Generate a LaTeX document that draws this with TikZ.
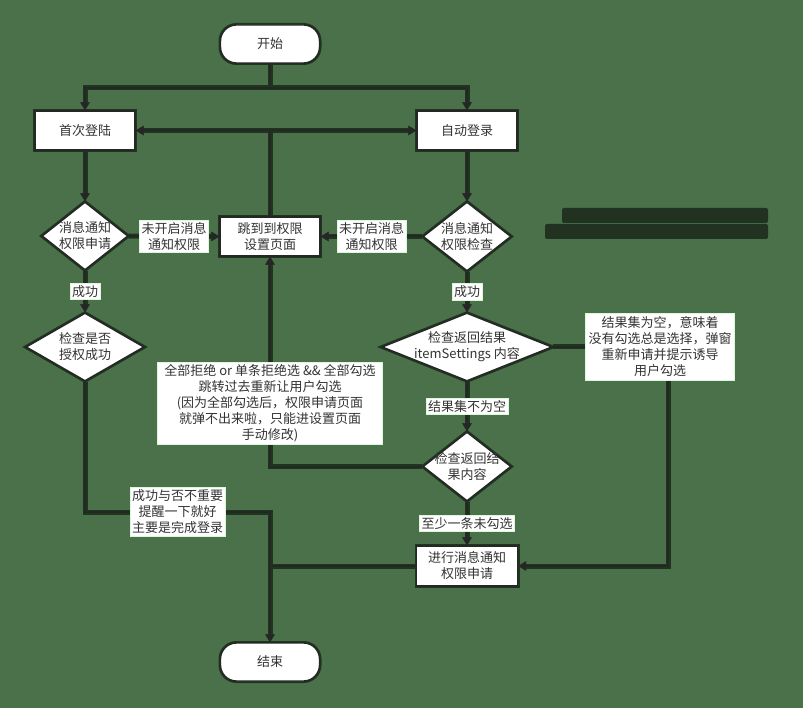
\documentclass[tikz,border=0pt]{standalone}
\usepackage{fontspec}
\setmainfont{Noto Sans CJK SC}
\usetikzlibrary{shapes.geometric,arrows.meta}
\definecolor{bg}{HTML}{4A714A}
\definecolor{glow}{HTML}{1E361E}
\definecolor{ink}{HTML}{262626}
\definecolor{txt}{HTML}{333333}
\definecolor{lblrim}{HTML}{DDF7DD}
\definecolor{redact}{HTML}{213221}
\tikzset{
  base/.style={font=\fontsize{13}{16}\selectfont, text=txt, align=center},
  shapebox/.style={base, fill=white, draw=ink, line width=1.4pt, preaction={draw=glow, line width=4pt}},
  term/.style={shapebox, rectangle, rounded corners=16pt, minimum width=99pt, minimum height=38pt, inner sep=0pt},
  proc/.style={shapebox, rectangle, minimum width=100pt, minimum height=39pt, inner sep=0pt},
  dec/.style={shapebox, diamond, inner xsep=-30pt, inner ysep=-16pt},
  lbl/.style={base, fill=white, draw=lblrim, line width=1pt, inner sep=2pt},
  conn/.style={draw=ink, line width=2pt, preaction={draw=glow, line width=5pt}, -{Triangle[length=8pt,width=9pt]}},
  link/.style={draw=ink, line width=2pt, preaction={draw=glow, line width=5pt}}
}
\begin{document}
\begin{tikzpicture}[x=1pt,y=-1pt]
\fill[bg] (0,0) rectangle (803,708);
\useasboundingbox (0,0) rectangle (803,708);
% redacted text block
\fill[redact, rounded corners=2pt] (562,208) rectangle (768,223);
\fill[redact, rounded corners=2pt] (545,224) rectangle (768,239);

% nodes
\node[term] (start) at (270,44) {开始};
\node[proc] (first) at (85,130.5) {首次登陆};
\node[proc] (auto) at (467,130.5) {自动登录};
\node[dec, minimum width=86pt, minimum height=68pt] (d1) at (85,236) {消息通知\\权限申请};
\node[proc] (jump) at (270,236.5) {跳到到权限\\设置页面};
\node[dec, minimum width=88pt, minimum height=69pt] (d3) at (467,236.5) {消息通知\\权限检查};
\node[dec, minimum width=118pt, minimum height=68pt] (d2) at (85,347) {检查是否\\授权成功};
\node[dec, minimum width=170pt, minimum height=68pt] (d4) at (467,347) {检查返回结果\\itemSettings 内容};
\node[dec, minimum width=88pt, minimum height=69pt] (d5) at (467,466.5) {检查返回结\\果内容};
\node[proc, minimum width=101pt, minimum height=40pt] (req) at (467,566) {进行消息通知\\权限申请};
\node[term] (end) at (270,662) {结束};

\coordinate (jt) at (270,88);
\coordinate (jm) at (270,512);
\coordinate (jr) at (668,347);
\coordinate (jb) at (270,566);

% connectors
\draw[conn] (start.south) -- (jt) -| (first.north);
\draw[conn] (jt) -| (auto.north);
\draw[conn] (jump.north) |- (first.east);
\draw[conn] (jump.north) |- (auto.west);
\draw[conn] (first.south) -- (d1.north);
\draw[conn] (auto.south) -- (d3.north);
\draw[conn] (d1.east) -- node[lbl] {未开启消息\\通知权限} (jump.west);
\draw[conn] (d3.west) -- node[lbl] {未开启消息\\通知权限} (jump.east);
\draw[conn] (d1.south) -- node[lbl] {成功} (d2.north);
\draw[conn] (d3.south) -- node[lbl] {成功} (d4.north);
\draw[conn] (d4.south) -- node[lbl] {结果集不为空} (d5.north);
\draw[conn] (d5.south) -- node[lbl] {至少一条未勾选} (req.north);
\draw[conn] (d5.west) -| node[lbl, pos=0.65, inner xsep=7pt] {全部拒绝 or 单条拒绝选 \&\& 全部勾选\\跳转过去重新让用户勾选\\ (因为全部勾选后，权限申请页面\\就弹不出来啦，只能进设置页面\\手动修改)} (jump.south);
\draw[conn] (d4.east) -- (jr) node[lbl, xshift=-8pt, inner sep=3pt] {结果集为空，意味着\\没有勾选总是选择，弹窗\\重新申请并提示诱导\\用户勾选} |- (req.east);
\draw[conn] (d2.south) |- node[lbl, pos=0.75] {成功与否不重要\\提醒一下就好\\主要是完成登录} (jm) -- (end.north);
\draw[link] (req.west) -- (jb);
\end{tikzpicture}
\end{document}
